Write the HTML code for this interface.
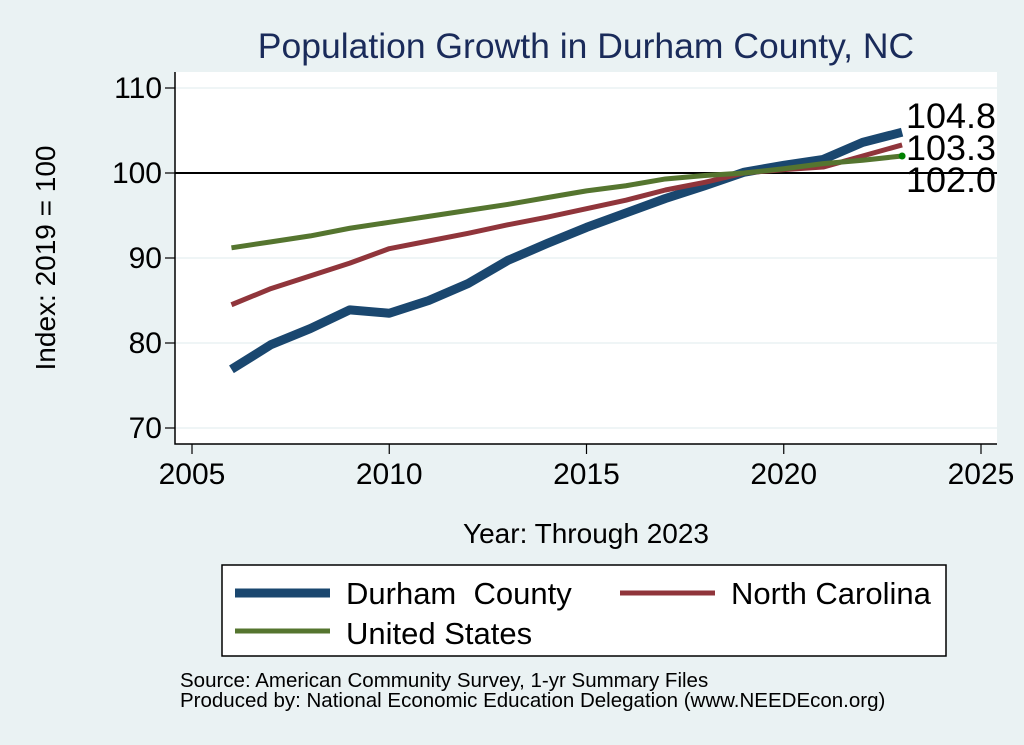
<!DOCTYPE html>
<html><head><meta charset="utf-8"><style>
body{margin:0;background:#eaf2f3;font-family:"Liberation Sans",sans-serif;}
svg{display:block}
</style></head><body>
<svg width="1024" height="745">
<rect x="0" y="0" width="1024" height="745" fill="#eaf2f3"/>
<text x="586" y="58" text-anchor="middle" font-size="35.5" fill="#1a2b5a">Population Growth in Durham County, NC</text>
<rect x="175" y="72" width="822" height="372" fill="#fff"/>
<g id="grid"></g><g id="axes"></g><g id="lines"></g><g id="labels"></g>
<text x="586" y="543" text-anchor="middle" font-size="28" fill="#000">Year: Through 2023</text>
<text transform="translate(55,258) rotate(-90)" text-anchor="middle" font-size="28" fill="#000">Index: 2019 = 100</text>
<g>
<rect x="222" y="565" width="724" height="91" fill="#fff" stroke="#000" stroke-width="1.5"/>
<line x1="235" y1="593" x2="330" y2="593" stroke="#1a476f" stroke-width="9"/>
<text x="346" y="604" font-size="31" style="white-space:pre">Durham  County</text>
<line x1="620" y1="593" x2="715" y2="593" stroke="#90353b" stroke-width="5"/>
<text x="731" y="604" font-size="31">North Carolina</text>
<line x1="235" y1="631" x2="330" y2="631" stroke="#55752f" stroke-width="5"/>
<text x="346" y="644" font-size="31">United States</text>
</g>
<text x="180" y="687" font-size="20.5">Source: American Community Survey, 1-yr Summary Files</text>
<text x="180" y="707" font-size="20.5">Produced by: National Economic Education Delegation (www.NEEDEcon.org)</text>
</svg>
<script>
const years=[2006,2007,2008,2009,2010,2011,2012,2013,2014,2015,2016,2017,2018,2019,2020,2021,2022,2023];
const durham=[76.9,79.8,81.7,83.9,83.5,85.0,87.0,89.7,91.7,93.6,95.3,97.0,98.5,100.1,100.9,101.6,103.6,104.8];
const nc=[84.5,86.4,87.9,89.4,91.1,92.0,92.9,93.9,94.8,95.8,96.8,98.0,98.9,100.0,100.4,100.7,102.0,103.3];
const us=[91.2,91.9,92.6,93.5,94.2,94.9,95.6,96.3,97.1,97.9,98.5,99.3,99.7,100.0,100.5,101.1,101.5,102.0];
const xTicks=[2005,2010,2015,2020,2025];
const yTicks=[70,80,90,100,110];
const endLabels=["104.8","103.3","102.0"];
const NS="http://www.w3.org/2000/svg";
function X(v){return 192+(v-2005)*(981-192)/20;}
function Y(v){return 428-(v-70)*(428-88)/40;}
function mk(t,a,p){const e=document.createElementNS(NS,t);for(const k in a)e.setAttribute(k,a[k]);document.getElementById(p).appendChild(e);return e;}
yTicks.forEach(v=>{
 if(v!==100){const g=mk('line',{x1:175,x2:997,y1:Y(v),y2:Y(v),stroke:'#eaf2f3','stroke-width':1.5},'grid');
 
 }
 const t=mk('line',{x1:165,x2:175,y1:Y(v),y2:Y(v),stroke:'#000','stroke-width':1.2},'axes');
 
 
 const l=mk('text',{x:162,y:Y(v)+10,'text-anchor':'end','font-size':30},'axes');l.textContent=v;
 
 
});
xTicks.forEach(v=>{
 const t=mk('line',{x1:X(v),x2:X(v),y1:444,y2:454,stroke:'#000','stroke-width':1.2},'axes');
 
 
 const l=mk('text',{x:X(v),y:484,'text-anchor':'middle','font-size':30},'axes');l.textContent=v;
 
 
});
const ax=mk('path',{d:'M175 72V444H997',fill:'none',stroke:'#000','stroke-width':1.5},'axes');


const ref=mk('line',{x1:175,x2:997,y1:Y(100),y2:Y(100),stroke:'#000','stroke-width':2},'axes');


function series(d,c,w,n){
 const p=mk('polyline',{points:d.map((v,i)=>X(years[i])+','+Y(v)).join(' '),fill:'none',stroke:c,'stroke-width':w,'stroke-linejoin':'round'},'lines');
 
 
}
series(durham,'#1a476f',9,'line-durham');
series(nc,'#90353b',5,'line-north-carolina');
series(us,'#55752f',5,'line-united-states');
const dot=mk('circle',{cx:X(2023),cy:Y(us[us.length-1]),r:3.5,fill:'#008000'},'lines');


[durham,nc,us].forEach((d,i)=>{
 const ys=[116,148,180];
 const l=mk('text',{x:906,y:ys[i]+12,'font-size':35,textLength:90,lengthAdjust:'spacingAndGlyphs'},'labels');l.textContent=endLabels[i];
 
 
});
</script>
</body></html>
